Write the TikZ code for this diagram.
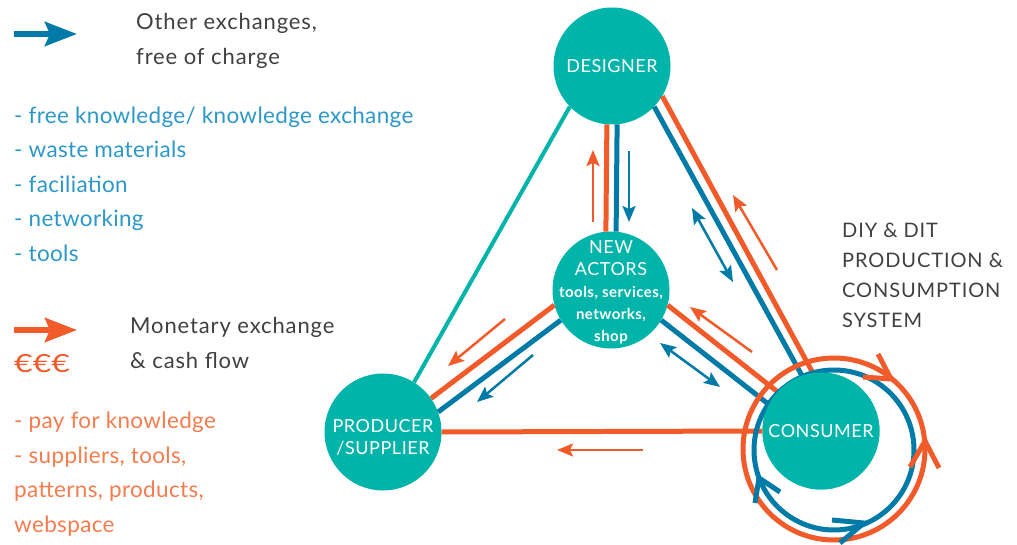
\documentclass[tikz,border=0pt]{standalone}
\usepackage{fontspec}
\usepackage{graphicx}
\setmainfont{Lato}
\usetikzlibrary{arrows.meta}

\definecolor{actorTeal}{RGB}{0,180,170}
\definecolor{flowBlue}{RGB}{0,123,167}
\definecolor{flowOrange}{RGB}{241,90,41}
\definecolor{listBlue}{RGB}{45,152,200}
\definecolor{listOrange}{RGB}{245,124,78}
\definecolor{textGray}{RGB}{64,64,64}

\newcommand{\spaced}[1]{\addfontfeatures{LetterSpace=#1}}

\tikzset{
  flowtip/.tip={Stealth[length=16pt,width=13pt,inset=3pt]},
  keytip/.tip={Stealth[length=32pt,width=24pt,inset=5pt]},
  actor/.style={circle, fill=actorTeal, minimum size=117pt, inner sep=0pt,
    text=white, align=center, font=\fontsize{18}{22}\selectfont\spaced{3}},
  actortext/.style={text=white, align=center, inner sep=0pt,
    font=\fontsize{18}{22}\selectfont\spaced{3}},
  tealline/.style={actorTeal, line width=4pt},
  freeline/.style={flowBlue, line width=5pt},
  payline/.style={flowOrange, line width=5pt},
  freearrow/.style={flowBlue, line width=2.5pt, -flowtip},
  twoway/.style={flowBlue, line width=2.5pt, flowtip-flowtip},
  payarrow/.style={flowOrange, line width=2.5pt, -flowtip},
  keyarrow/.style={line width=6pt, -keytip},
  chevron/.style={line width=5pt, miter limit=10},
  legendtext/.style={text=textGray, align=left, inner sep=0pt,
    font=\fontsize{22}{35}\selectfont\spaced{4}},
  listtext/.style={align=left, inner sep=0pt,
    font=\fontsize{22.5}{34.5}\selectfont\spaced{1.5}}
}

\begin{document}
\begin{tikzpicture}[x=1pt, y=-1pt]
  \useasboundingbox (0,0) rectangle (1017,545);
  % Draw the actors
  \node[actor] (des) at (612,66) {DESIGNER};
  \node[actor, label={[actortext, yshift=-2pt]center:NEW\\ACTORS\\
    {\fontsize{15}{22}\selectfont\bfseries\spaced{3}tools, services,}\\
    {\fontsize{15}{22}\selectfont\bfseries\spaced{3}networks,}\\
    {\fontsize{15}{22}\selectfont\bfseries\spaced{3}shop}}] (new) at (611,290) {};
  \node[actor, label={[actortext, yshift=-5pt]center:PRODUCER\\/SUPPLIER}] (prod) at (383,432) {};
  \node[actor] (con) at (821,431) {CONSUMER};
  % Draw the exchange lines
  \draw[tealline] (des.224) -- (prod.58);
  \draw[payline] (des.-95) -- (new.95);
  \draw[freeline] (des.-85) -- (new.85);
  \draw[freeline] (des.-44) -- (con.109);
  \draw[payline] (des.-31) -- (con.98);
  \draw[payline] (new.195) -- (prod.35);
  \draw[freeline] (new.211) -- (prod.20);
  \draw[payline] (new.-15) -- (con.138);
  \draw[freeline] (new.-31) -- (con.153);
  \draw[payline] (prod.0) -- (con.180);
  % Draw the flow arrows
  \coordinate (dnp1) at (593,222);  \coordinate (dnp2) at (593,150);
  \coordinate (dnf1) at (629,151);  \coordinate (dnf2) at (629,222);
  \coordinate (dcf1) at (692,208);  \coordinate (dcf2) at (733,282);
  \coordinate (dcp1) at (777,270);  \coordinate (dcp2) at (733,195);
  \coordinate (npp1) at (505,319);  \coordinate (npp2) at (448,366);
  \coordinate (npf1) at (533,355);  \coordinate (npf2) at (477,402);
  \coordinate (ncf1) at (660,343);  \coordinate (ncf2) at (720,387);
  \coordinate (ncp1) at (752,352);  \coordinate (ncp2) at (690,307);
  \coordinate (pcp1) at (643,450);  \coordinate (pcp2) at (557,450);
  \draw[payarrow] (dnp1) -- (dnp2);
  \draw[freearrow] (dnf1) -- (dnf2);
  \draw[twoway] (dcf1) -- (dcf2);
  \draw[payarrow] (dcp1) -- (dcp2);
  \draw[payarrow] (npp1) -- (npp2);
  \draw[freearrow] (npf1) -- (npf2);
  \draw[twoway] (ncf1) -- (ncf2);
  \draw[payarrow] (ncp1) -- (ncp2);
  \draw[payarrow] (pcp1) -- (pcp2);
  % Draw the DIY rings round the consumer
  \coordinate (ring) at (834,449);
  \draw[payline] (ring) circle[radius=91pt];
  \draw[freeline] ([yshift=-1pt]ring) circle[radius=80pt];
  \draw[chevron, flowOrange] (863,377) -- (891,379) -- (878,354);
  \draw[chevron, flowOrange] (910,467) -- (925,441) -- (939,468);
  \draw[chevron, flowBlue] (755,503) -- (759,478) -- (780,492);
  \draw[chevron, flowBlue] (832,520) -- (864,523) -- (840,543);
  \node[actor] at (con) {CONSUMER};
  % Draw the legend
  \coordinate (freekey) at (14,34);
  \coordinate (paykey) at (14,330);
  \draw[keyarrow, flowBlue] (freekey) -- ++(63,0);
  \draw[keyarrow, flowOrange] (paykey) -- ++(63,0);
  \node[legendtext, anchor=west] (freehead) at (136,41) {Other exchanges,\\free of charge};
  \node[listtext, text=listBlue, anchor=west] (freelist) at (14,184)
    {- free knowledge/ knowledge exchange\\- waste materials\\- faciliation\\- networking\\- tools};
  \node[legendtext, anchor=west] (payhead) at (130,343) {Monetary exchange\\\& cash flow};
  \node[anchor=west, inner sep=0pt, text=flowOrange,
    font=\fontsize{25}{30}\selectfont] (euro) at (14,364) {\scalebox{1.28}[1]{€€€}};
  \node[listtext, text=listOrange, anchor=west] (paylist) at (14,474)
    {- pay for knowledge\\- suppliers, tools,\\patterns, products,\\webspace};
  \node[anchor=west, text=textGray, align=left, inner sep=0pt,
    font=\fontsize{20}{30}\selectfont\spaced{4.5}] (diy) at (842,275)
    {DIY \& DIT\\PRODUCTION \&\\CONSUMPTION\\SYSTEM};
\end{tikzpicture}
\end{document}
